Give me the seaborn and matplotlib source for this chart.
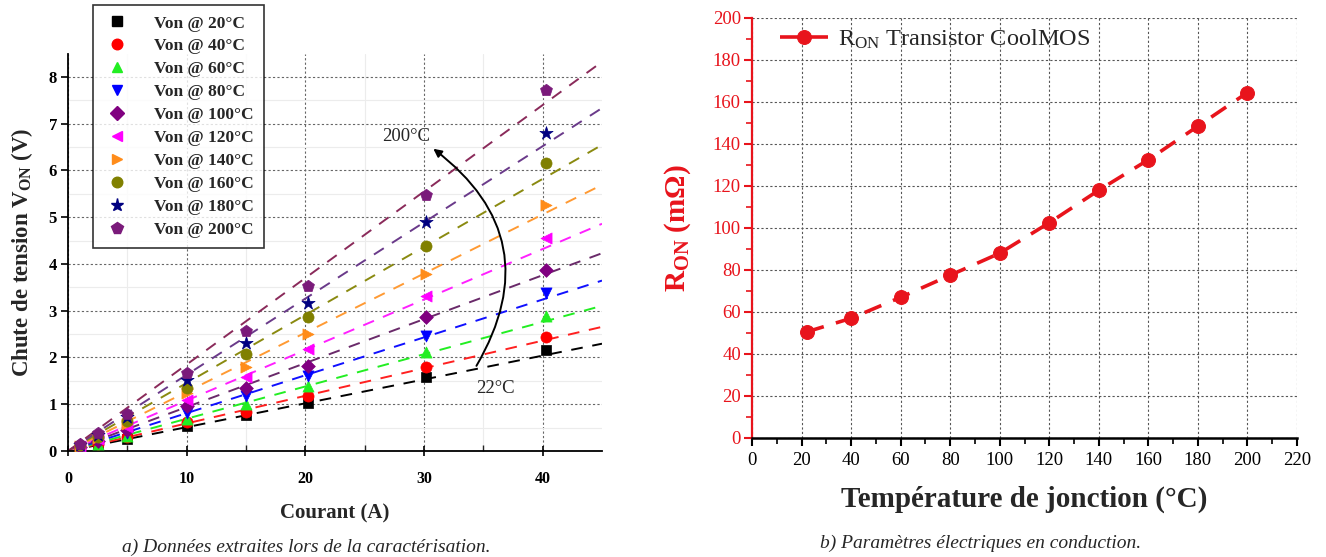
import numpy as np
import pandas as pd
import matplotlib
matplotlib.use("Agg")
import matplotlib.pyplot as plt
from matplotlib.lines import Line2D
import seaborn as sns

# ---- data (a) : Von vs current for each junction temperature ----
currents = [1, 2.5, 5, 10, 15, 20.2, 30.2, 40.3]
temps_a = [20, 40, 60, 80, 100, 120, 140, 160, 180, 200]
von_20 = [0.05, 0.12, 0.25, 0.53, 0.77, 1.03, 1.58, 2.16]
von_40 = [0.06, 0.14, 0.29, 0.61, 0.84, 1.18, 1.80, 2.44]
von_60 = [0.07, 0.16, 0.33, 0.68, 1.00, 1.40, 2.12, 2.89]
von_80 = [0.08, 0.19, 0.39, 0.82, 1.18, 1.60, 2.46, 3.38]
von_100 = [0.09, 0.22, 0.45, 0.96, 1.35, 1.82, 2.87, 3.87]
von_120 = [0.10, 0.25, 0.51, 1.09, 1.59, 2.18, 3.32, 4.56]
von_140 = [0.11, 0.28, 0.58, 1.23, 1.80, 2.50, 3.78, 5.26]
von_160 = [0.12, 0.31, 0.64, 1.35, 2.07, 2.87, 4.39, 6.17]
von_180 = [0.13, 0.34, 0.72, 1.52, 2.30, 3.16, 4.90, 6.81]
von_200 = [0.15, 0.38, 0.80, 1.66, 2.57, 3.52, 5.48, 7.72]
# slopes of the dashed fit lines (V/A)
fit_slopes = [0.051, 0.059, 0.069, 0.081, 0.094, 0.108, 0.1265, 0.1455, 0.163, 0.185]

# ---- data (b) : Ron vs junction temperature ----
temps_b = [22, 40, 60, 80, 100, 120, 140, 160, 180, 200]
ron = [50.5, 57, 67, 77.5, 88, 102.5, 118, 132.5, 148.5, 164.5]

colors = ['#000000', '#ff0000', '#22ee22', '#0000ff', '#800080',
          '#ff00ff', '#ff8c1a', '#808000', '#000080', '#7a1a7a']
line_colors = ['#000000', '#ff2020', '#22ee22', '#1010ff', '#6a2a6a',
               '#ff20ff', '#ff9a33', '#8a8a10', '#6a3a8a', '#8a2a5a']
markers = ['s', 'o', '^', 'v', 'D', '<', '>', 'o', '*', 'p']
msizes = [7, 8, 8, 8, 7, 8, 8, 8, 10, 9]

all_von = [von_20, von_40, von_60, von_80, von_100,
           von_120, von_140, von_160, von_180, von_200]
rows = []
for t, vals in zip(temps_a, all_von):
    for c, v in zip(currents, vals):
        rows.append({'temp': t, 'current': c, 'von': v})
df_a = pd.DataFrame(rows)

sns.set_theme(style="ticks")
plt.rcParams['font.family'] = ['Liberation Serif', 'DejaVu Serif']
plt.rcParams['mathtext.fontset'] = 'custom'
plt.rcParams['mathtext.rm'] = 'Liberation Serif'
plt.rcParams['mathtext.bf'] = 'Liberation Serif:bold'
plt.rcParams['mathtext.it'] = 'Liberation Serif:italic'

W, H = 1326, 557
fig = plt.figure(figsize=(W / 100, H / 100), dpi=100)
fig.patch.set_facecolor('white')

# ================= left panel =================
X_MAX, Y_MAX = 45, 8.5
ax1 = fig.add_axes([68 / W, 1 - 451 / H, (602 - 68) / W, (451 - 53.6) / H])
ax1.set_facecolor('white')

x_fit = np.array([0, X_MAX])
for t, k, lc in zip(temps_a, fit_slopes, line_colors):
    sns.lineplot(x=x_fit, y=k * x_fit, ax=ax1, color=lc, lw=1.4,
                 linestyle=(0, (6, 5)), zorder=2)

for t, c, m, ms in zip(temps_a, colors, markers, msizes):
    sub = df_a[df_a['temp'] == t]
    sns.scatterplot(data=sub, x='current', y='von', ax=ax1, color=c,
                    marker=m, s=ms ** 2, edgecolor=c, linewidth=0.5,
                    zorder=3, legend=False)

ax1.set_xlim(0, X_MAX)
ax1.set_ylim(0, Y_MAX)
ax1.set_xticks([0, 10, 20, 30, 40])
ax1.set_xticks([5, 15, 25, 35], minor=True)
ax1.set_yticks(range(0, 9))
ax1.set_yticks(np.arange(0.5, 8.5, 1), minor=True)
ax1.grid(which='minor', color='#ececec', lw=0.8, linestyle='-')
ax1.grid(which='major', color='#666666', lw=0.8, linestyle=(0, (2, 2)))
ax1.set_axisbelow(True)
for s in ['top', 'right']:
    ax1.spines[s].set_visible(False)
for s in ['left', 'bottom']:
    ax1.spines[s].set_color('black')
    ax1.spines[s].set_linewidth(1.3)
ax1.tick_params(axis='x', which='major', direction='inout', length=7,
                width=1.2, pad=11, labelsize=11.5, colors='black')
ax1.tick_params(axis='x', which='minor', direction='in', length=4, width=1)
ax1.tick_params(axis='y', which='major', direction='out', length=5,
                width=1.2, pad=3, labelsize=12, colors='black')
ax1.tick_params(axis='y', which='minor', length=0)
for lbl in ax1.get_xticklabels() + ax1.get_yticklabels():
    lbl.set_fontweight('bold')
ax1.set_xlabel('Courant (A)', fontsize=15, fontweight='bold', labelpad=12)
ax1.set_ylabel(r'Chute de tension V$_{\mathbf{ON}}$ (V)', fontsize=16.5,
               fontweight='bold', labelpad=10)

handles = [Line2D([], [], linestyle='none', marker=m, color=c,
                  markersize=ms * 0.95, markeredgecolor=c)
           for c, m, ms in zip(colors, markers, msizes)]
labels = [f'Von @ {t}°C' for t in temps_a]
leg = ax1.legend(handles, labels, loc='upper left',
                 bbox_to_anchor=(93 / W, 1 - 5 / H),
                 bbox_transform=fig.transFigure, frameon=True, fancybox=False,
                 edgecolor='black', prop={'weight': 'bold', 'size': 12.5},
                 handletextpad=1.3, labelspacing=0.39, borderpad=0.6,
                 handlelength=1.6, borderaxespad=0)
leg.get_frame().set_linewidth(1.2)
leg.set_zorder(10)

ax1.annotate('', xy=(30.6, 6.5), xytext=(34.3, 1.77),
             arrowprops=dict(arrowstyle='-|>', color='black', lw=1.4,
                             mutation_scale=12,
                             connectionstyle='arc3,rad=0.45'))
ax1.text(28.5, 6.72, '200°C', fontsize=13.5, ha='center', va='center')
ax1.text(36.0, 1.34, '22°C', fontsize=13.5, ha='center', va='center')

# ================= right panel =================
red = '#e8141c'
ax2 = fig.add_axes([752 / W, 1 - 438 / H, (1297 - 752) / W, (438 - 18) / H])
ax2.set_facecolor('white')
sns.lineplot(x=temps_b, y=ron, ax=ax2, color=red, lw=2.6,
             linestyle=(0, (5, 3.5)), marker='o', markersize=10,
             markeredgecolor=red, label=r'R$_{\mathrm{ON}}$ Transistor CoolMOS')
ax2.set_xlim(0, 220)
ax2.set_ylim(0, 200)
ax2.set_xticks(range(0, 221, 20))
ax2.set_xticks(range(10, 220, 20), minor=True)
ax2.set_yticks(range(0, 201, 20))
ax2.set_yticks(range(10, 200, 20), minor=True)
ax2.grid(which='major', color='#555555', lw=0.8, linestyle=(0, (2, 2)))
ax2.set_axisbelow(True)
for s in ['top', 'right']:
    ax2.spines[s].set_visible(False)
ax2.spines['left'].set_color(red)
ax2.spines['left'].set_linewidth(1.6)
ax2.spines['bottom'].set_color('black')
ax2.spines['bottom'].set_linewidth(1.8)
ax2.tick_params(axis='x', which='major', direction='out', length=6, width=1.5,
                labelsize=13.5, colors='black', pad=4)
ax2.tick_params(axis='x', which='minor', direction='out', length=4, width=1.2,
                colors='black')
ax2.tick_params(axis='y', which='major', direction='out', length=6, width=1.5,
                labelsize=13.5, colors=red, pad=2)
ax2.tick_params(axis='y', which='minor', direction='out', length=4, width=1.2,
                colors=red)
ax2.set_xlabel('Température de jonction (°C)', fontsize=21, fontweight='bold',
               labelpad=12)
ax2.set_ylabel(r'R$_{\mathbf{ON}}$ (mΩ)', fontsize=21, fontweight='bold',
               color=red, labelpad=14)
leg2 = ax2.legend(loc='center left', bbox_to_anchor=(0.051, 0.95),
                  frameon=False, prop={'size': 17.5}, handlelength=2.0,
                  handletextpad=0.4, borderpad=0, borderaxespad=0)

# ================= captions =================
fig.text(306 / W, 1 - 547 / H, 'a) Données extraites lors de la caractérisation.',
         fontsize=14, style='italic', ha='center', va='center')
fig.text(981 / W, 1 - 543 / H, 'b) Paramètres électriques en conduction.',
         fontsize=14, style='italic', ha='center', va='center')

plt.savefig('out.png', dpi=100, facecolor='white')
plt.close()
